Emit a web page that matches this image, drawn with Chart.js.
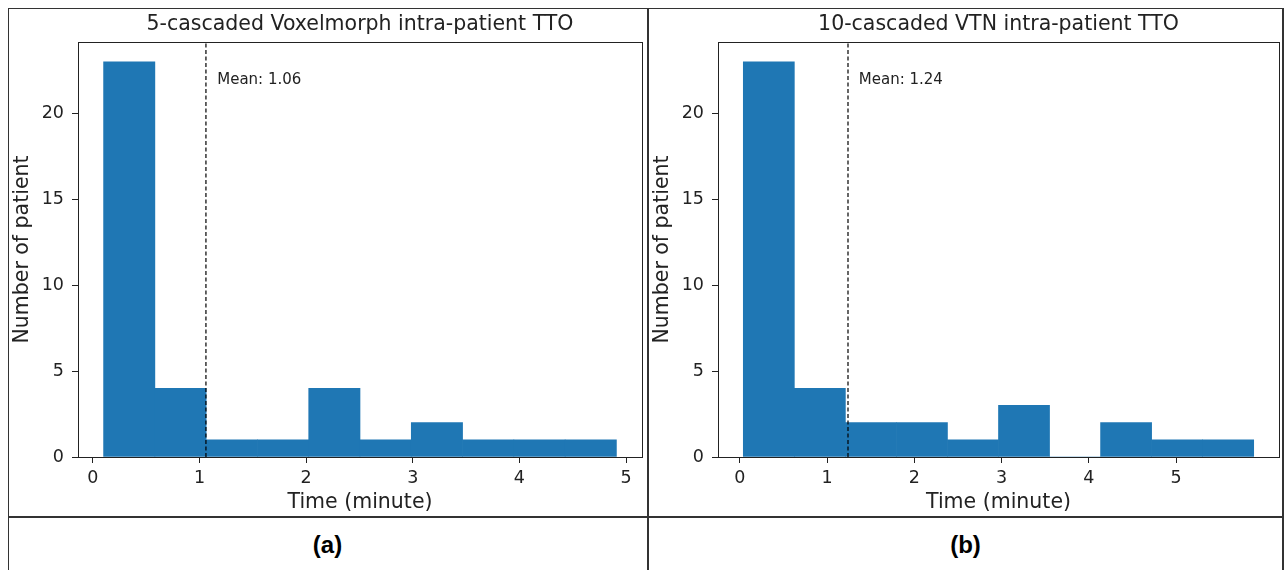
<!DOCTYPE html>
<html>
<head>
<meta charset="utf-8">
<script src="https://cdn.jsdelivr.net/npm/chart.js@4"></script>
<style>
body{margin:0;background:#fff;width:1286px;height:570px;position:relative;overflow:hidden}
.ln{position:absolute;background:#333}
canvas{position:absolute;top:9px}
.lab{position:absolute;top:531px;font:bold 24px "Liberation Sans";text-align:center;color:#000}
</style>
</head>
<body>
<div class="ln" style="left:8px;top:8px;width:1276px;height:1px"></div>
<div class="ln" style="left:8px;top:8px;width:1px;height:562px"></div>
<div class="ln" style="left:647px;top:8px;width:2px;height:562px"></div>
<div class="ln" style="left:1282px;top:8px;width:2px;height:562px"></div>
<div class="ln" style="left:8px;top:516px;width:1276px;height:2px"></div>
<canvas id="chartA" width="638" height="507" style="left:9px"></canvas>
<canvas id="chartB" width="633" height="507" style="left:649px"></canvas>
<div class="lab" style="left:8px;width:639px">(a)</div>
<div class="lab" style="left:649px;width:633px">(b)</div>
<script>
// histogram bin edges (minutes) and counts
let edgesA = [0.100, 0.581, 1.062, 1.543, 2.024, 2.505, 2.986, 3.467, 3.948, 4.429, 4.910]
let countsA = [23, 4, 1, 1, 4, 1, 2, 1, 1, 1]
let meanA = 1.06
let edgesB = [0.040, 0.625, 1.210, 1.795, 2.380, 2.965, 3.550, 4.135, 4.720, 5.305, 5.890]
let countsB = [23, 4, 2, 2, 1, 3, 0, 2, 1, 1]
let meanB = 1.24
let titleA = '5-cascaded Voxelmorph intra-patient TTO'
let titleB = '10-cascaded VTN intra-patient TTO'
let xTicks = [0, 1, 2, 3, 4, 5]
let yTicks = [0, 5, 10, 15, 20]
let xRangeA = [-0.14, 5.15]
let xRangeB = [-0.25, 6.18]
let yMax = 24.15

const FONT = 'DejaVu Sans'
const INK = '#222'

const frameAndMean = {
    id: 'frameAndMean',
    afterDatasetsDraw(chart, args, opts) {
        const ctx = chart.ctx
        const a = chart.chartArea
        ctx.save()
        ctx.strokeStyle = INK
        ctx.lineWidth = 1
        ctx.strokeRect(Math.round(a.left) + 0.5, Math.round(a.top) + 0.5,
            Math.round(a.right - a.left), Math.round(a.bottom - a.top))
        // mean label placed at 1.1*mean, 0.9*ymax like the original plot
        const x = chart.scales.x.getPixelForValue(opts.mean * 1.1)
        const y = chart.scales.y.getPixelForValue(yMax * 0.9)
        ctx.fillStyle = INK
        ctx.font = '15px "' + FONT + '"'
        ctx.textAlign = 'left'
        ctx.textBaseline = 'alphabetic'
        ctx.fillText('Mean: ' + opts.mean.toFixed(2), x, y)
        ctx.restore()
    }
}

let makeChart = (id, edges, counts, mean, title, xRange, padRight) => {
    let bars = counts.map((c, i) => ({ x: (edges[i] + edges[i + 1]) / 2, y: c }))
    let tickOpts = { color: INK, font: { size: 17.5, family: FONT } }
    let gridOpts = { drawOnChartArea: false, drawTicks: true, tickLength: 6, tickColor: INK, offset: false }
    return new Chart(document.getElementById(id), {
        type: 'bar',
        data: {
            datasets: [
                {
                    type: 'line',
                    data: [{ x: mean, y: 0 }, { x: mean, y: yMax }],
                    borderColor: '#000',
                    borderWidth: 1.2,
                    borderDash: [4, 2.5],
                    pointRadius: 0,
                    order: 0
                },
                {
                    data: bars,
                    backgroundColor: '#1f77b4',
                    borderWidth: 0,
                    barPercentage: 1,
                    categoryPercentage: 1,
                    order: 1
                }
            ]
        },
        options: {
            responsive: false,
            animation: false,
            devicePixelRatio: 1,
            layout: { padding: { left: 0, right: padRight, top: 0, bottom: 0 } },
            plugins: {
                legend: { display: false },
                tooltip: { enabled: false },
                title: {
                    display: true, text: title, fullSize: false, color: INK,
                    font: { size: 20.5, family: FONT, weight: 'normal', lineHeight: 1.2 },
                    padding: { top: 3, bottom: 5.4 }
                },
                frameAndMean: { mean: mean }
            },
            scales: {
                x: {
                    type: 'linear', min: xRange[0], max: xRange[1], offset: false,
                    afterBuildTicks: s => { s.ticks = xTicks.map(v => ({ value: v })) },
                    afterFit: s => { s.height = 59 },
                    grid: gridOpts,
                    border: { display: true, color: INK },
                    ticks: Object.assign({ padding: 5, maxRotation: 0, autoSkip: false }, tickOpts),
                    title: {
                        display: true, text: 'Time (minute)', color: INK,
                        font: { size: 20.5, family: FONT, lineHeight: 1.2 },
                        padding: { top: 0, bottom: 1 }
                    }
                },
                y: {
                    type: 'linear', min: 0, max: yMax,
                    afterBuildTicks: s => { s.ticks = yTicks.map(v => ({ value: v })) },
                    afterFit: s => { s.width = 69 },
                    grid: gridOpts,
                    border: { display: true, color: INK },
                    ticks: Object.assign({ padding: 8 }, tickOpts),
                    title: {
                        display: true, text: 'Number of patient', color: INK,
                        font: { size: 20.5, family: FONT, lineHeight: 1.2 },
                        padding: { top: 1, bottom: 0 }
                    }
                }
            }
        },
        plugins: [frameAndMean]
    })
}

makeChart('chartA', edgesA, countsA, meanA, titleA, xRangeA, 5)
makeChart('chartB', edgesB, countsB, meanB, titleB, xRangeB, 3)
</script>
</body>
</html>
